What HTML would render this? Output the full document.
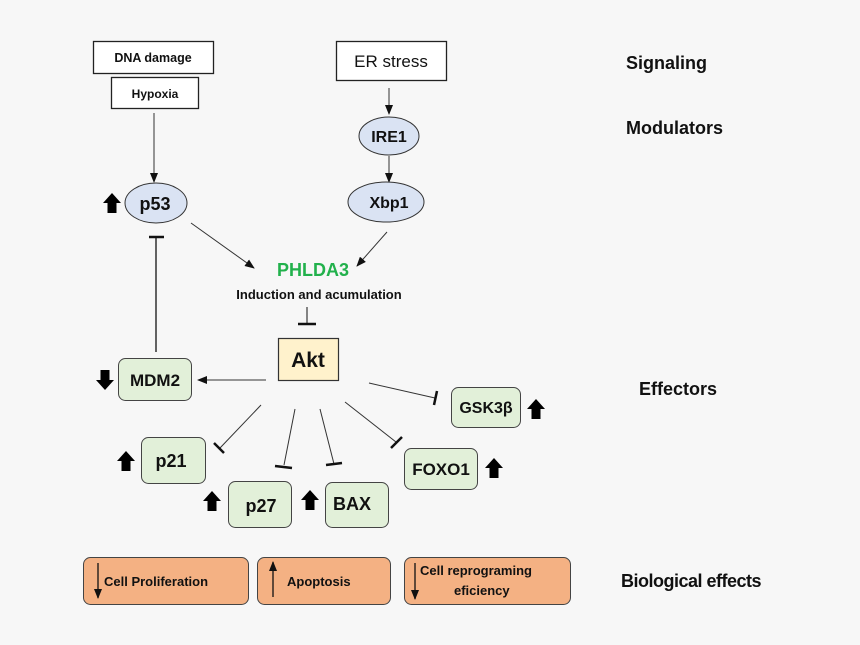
<!DOCTYPE html>
<html><head><meta charset="utf-8"><style>
html,body{margin:0;padding:0;background:#f7f7f7;}
svg{display:block;}
text{font-family:"Liberation Sans",Arial,sans-serif;font-weight:bold;fill:#111;}
</style></head><body>
<svg width="860" height="645" viewBox="0 0 860 645" xmlns="http://www.w3.org/2000/svg">
<defs>
<marker id="ah" markerWidth="10" markerHeight="8" refX="9" refY="4" orient="auto" markerUnits="userSpaceOnUse">
<path d="M0,0 L10,4 L0,8 Z" fill="#111"/></marker>
<g id="up"><path d="M0,-10 L9,0 L4.5,0 L4.5,10 L-4.5,10 L-4.5,0 L-9,0 Z" fill="#000"/></g>
<g id="dn"><path d="M0,10 L9,0 L4.5,0 L4.5,-10 L-4.5,-10 L-4.5,0 L-9,0 Z" fill="#000"/></g>
</defs>
<rect width="860" height="645" fill="#f7f7f7"/>

<rect x="93.5" y="41.5" width="120" height="32" fill="#fff" stroke="#222" stroke-width="1.3"/>
<text x="153" y="62" font-size="12.5" text-anchor="middle">DNA damage</text>
<rect x="111.5" y="77.5" width="87" height="31" fill="#fff" stroke="#222" stroke-width="1.3"/>
<text x="155" y="98" font-size="12" text-anchor="middle">Hypoxia</text>
<rect x="336.5" y="41.5" width="110" height="39" fill="#fff" stroke="#222" stroke-width="1.3"/>
<text x="391" y="67" font-size="17" text-anchor="middle" style="font-weight:normal">ER stress</text>

<line x1="154" y1="113" x2="154" y2="182" stroke="#333" stroke-width="1" marker-end="url(#ah)"/>
<line x1="389" y1="88" x2="389" y2="114" stroke="#333" stroke-width="1" marker-end="url(#ah)"/>
<line x1="389" y1="156" x2="389" y2="182" stroke="#333" stroke-width="1" marker-end="url(#ah)"/>

<ellipse cx="389" cy="136" rx="30" ry="19" fill="#dae3f3" stroke="#333" stroke-width="1"/>
<text x="389" y="142" font-size="16" text-anchor="middle">IRE1</text>
<ellipse cx="386" cy="202" rx="38" ry="20" fill="#dae3f3" stroke="#333" stroke-width="1"/>
<text x="389" y="208" font-size="16" text-anchor="middle">Xbp1</text>
<ellipse cx="156" cy="203" rx="31" ry="20" fill="#dae3f3" stroke="#333" stroke-width="1"/>
<text x="155" y="210" font-size="18" text-anchor="middle">p53</text>
<use href="#up" x="112" y="203"/>

<line x1="191" y1="223" x2="254" y2="268" stroke="#333" stroke-width="1" marker-end="url(#ah)"/>
<line x1="387" y1="232" x2="357" y2="266" stroke="#333" stroke-width="1" marker-end="url(#ah)"/>

<text x="313" y="276" font-size="18" text-anchor="middle" style="fill:#22b14c">PHLDA3</text>
<text x="319" y="299" font-size="13" text-anchor="middle">Induction and  acumulation</text>

<line x1="307" y1="307" x2="307" y2="324" stroke="#111" stroke-width="1"/>
<line x1="298" y1="324" x2="316" y2="324" stroke="#111" stroke-width="2.5"/>

<line x1="156" y1="352" x2="156" y2="237" stroke="#111" stroke-width="1.3"/>
<line x1="149" y1="237" x2="164" y2="237" stroke="#111" stroke-width="2.5"/>

<rect x="278.5" y="338.5" width="60" height="42" fill="#fff2cc" stroke="#333" stroke-width="1.2"/>
<text x="308" y="367" font-size="21" text-anchor="middle">Akt</text>

<line x1="266" y1="380" x2="198" y2="380" stroke="#333" stroke-width="1" marker-end="url(#ah)"/>

<rect x="118.5" y="358.5" width="73" height="42" rx="7" fill="#e2f0d9" stroke="#444" stroke-width="1"/>
<text x="155" y="386" font-size="17" text-anchor="middle">MDM2</text>
<use href="#dn" x="105" y="380"/>

<rect x="451.5" y="387.5" width="69" height="40" rx="7" fill="#e2f0d9" stroke="#444" stroke-width="1"/>
<text x="486" y="413" font-size="16" text-anchor="middle">GSK3β</text>
<use href="#up" x="536" y="409"/>

<rect x="141.5" y="437.5" width="64" height="46" rx="7" fill="#e2f0d9" stroke="#444" stroke-width="1"/>
<text x="171" y="467" font-size="18" text-anchor="middle">p21</text>
<use href="#up" x="126" y="461"/>

<rect x="228.5" y="481.5" width="63" height="46" rx="7" fill="#e2f0d9" stroke="#444" stroke-width="1"/>
<text x="261" y="512" font-size="18" text-anchor="middle">p27</text>
<use href="#up" x="212" y="501"/>

<rect x="325.5" y="482.5" width="63" height="45" rx="7" fill="#e2f0d9" stroke="#444" stroke-width="1"/>
<text x="352" y="510" font-size="18" text-anchor="middle">BAX</text>
<use href="#up" x="310" y="500"/>

<rect x="404.5" y="448.5" width="73" height="41" rx="7" fill="#e2f0d9" stroke="#444" stroke-width="1"/>
<text x="441" y="475" font-size="17" text-anchor="middle">FOXO1</text>
<use href="#up" x="494" y="468"/>

<line x1="369" y1="383" x2="435" y2="398" stroke="#333" stroke-width="1"/>
<line x1="437" y1="391" x2="434" y2="405" stroke="#111" stroke-width="2.5"/>

<line x1="261" y1="405" x2="220" y2="448" stroke="#333" stroke-width="1"/>
<line x1="214" y1="443" x2="224" y2="453" stroke="#111" stroke-width="2.5"/>

<line x1="295" y1="409" x2="284" y2="465" stroke="#333" stroke-width="1"/>
<line x1="275" y1="466" x2="292" y2="468" stroke="#111" stroke-width="2.5"/>

<line x1="320" y1="409" x2="334" y2="464" stroke="#333" stroke-width="1"/>
<line x1="326" y1="465" x2="342" y2="463" stroke="#111" stroke-width="2.5"/>

<line x1="345" y1="402" x2="396" y2="442" stroke="#333" stroke-width="1"/>
<line x1="391" y1="448" x2="402" y2="437" stroke="#111" stroke-width="2.5"/>

<rect x="83.5" y="557.5" width="165" height="47" rx="7" fill="#f4b183" stroke="#444" stroke-width="1"/>
<line x1="98" y1="563" x2="98" y2="598" stroke="#111" stroke-width="1.3" marker-end="url(#ah)"/>
<text x="104" y="586" font-size="13">Cell Proliferation</text>

<rect x="257.5" y="557.5" width="133" height="47" rx="7" fill="#f4b183" stroke="#444" stroke-width="1"/>
<line x1="273" y1="597" x2="273" y2="562" stroke="#111" stroke-width="1.3" marker-end="url(#ah)"/>
<text x="287" y="586" font-size="13">Apoptosis</text>

<rect x="404.5" y="557.5" width="166" height="47" rx="7" fill="#f4b183" stroke="#444" stroke-width="1"/>
<line x1="415" y1="563" x2="415" y2="599" stroke="#111" stroke-width="1.3" marker-end="url(#ah)"/>
<text x="420" y="575" font-size="13">Cell  reprograming</text>
<text x="454" y="595" font-size="13">eficiency</text>

<text x="626" y="69" font-size="18">Signaling</text>
<text x="626" y="134" font-size="18">Modulators</text>
<text x="639" y="395" font-size="18">Effectors</text>
<text x="621" y="587" font-size="18" letter-spacing="-0.5">Biological effects</text>
</svg>
</body></html>
